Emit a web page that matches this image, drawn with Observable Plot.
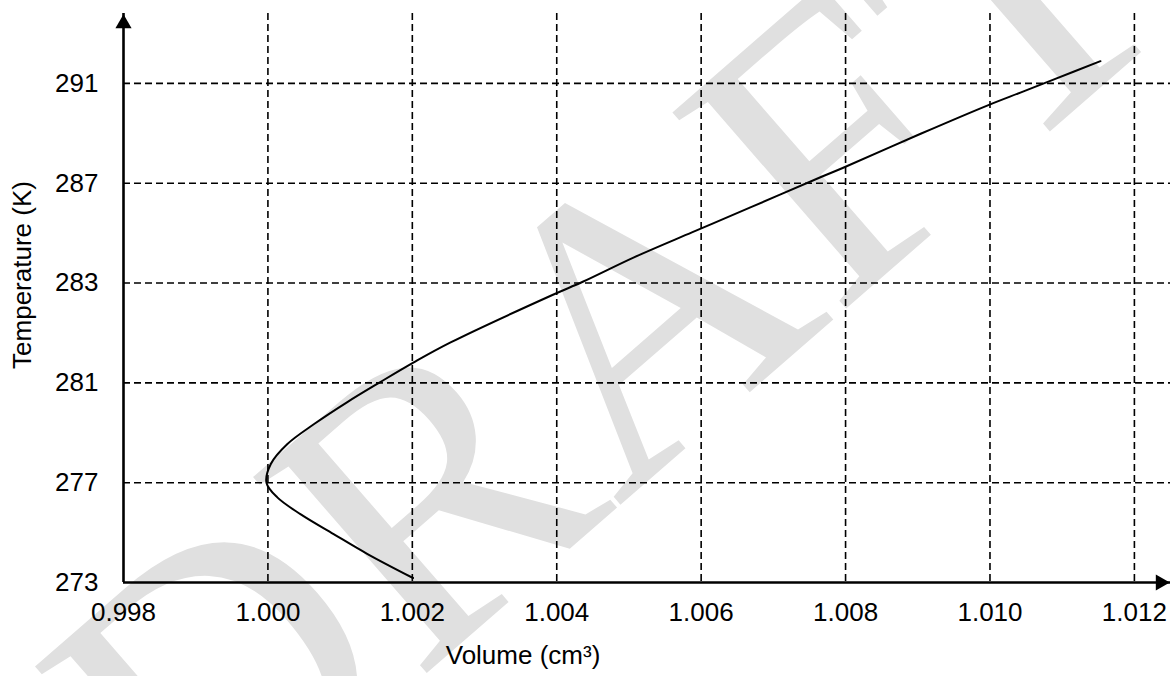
<!DOCTYPE html>
<html>
<head>
<meta charset="utf-8">
<script src="https://cdn.jsdelivr.net/npm/d3@7"></script>
<script src="https://cdn.jsdelivr.net/npm/@observablehq/plot@0.6"></script>
<style>
  html, body { margin: 0; padding: 0; background: #fff; }
  #chart svg { display: block; }
</style>
</head>
<body>
<div id="chart"></div>
<script>
// Tick labels of the two axes (the temperature gridlines are evenly spaced in the drawing)
const volumeTicks = [0.998, 1.000, 1.002, 1.004, 1.006, 1.008, 1.010, 1.012];
const tempTicks = [273, 277, 281, 283, 287, 291];

// Curve: volume (cm³) and temperature (K)
const curveVolume = [1.00201, 1.00138, 1.00091, 1.00045, 1.00013, 0.99998, 1.00004, 1.00027, 1.00064, 1.00110,
  1.00155, 1.00202, 1.00253, 1.00394, 1.00436, 1.00507, 1.00588, 1.00669, 1.00766,
  1.00796, 1.00904, 1.00997, 1.01043, 1.01087, 1.01153];
const curveTemp = [273.18, 274.14, 274.94, 275.74, 276.41, 277.00, 277.75, 278.55, 279.35, 280.23,
  281.01, 281.41, 281.81, 282.76, 283.05, 284.03, 285.04, 286.04, 287.25,
  287.61, 288.98, 290.12, 290.64, 291.14, 291.89];

const axisLabelX = "Volume (cm³)";
const axisLabelY = "Temperature (K)";
const watermark = "DRAFT";

// The drawing places its temperature labels at equal steps: map each label to its step index
const tPos = d3.scaleLinear().domain(tempTicks).range(d3.range(tempTicks.length));
const curve = curveVolume.map((v, i) => ({V: v, T: curveTemp[i]}));

const dash = "7,4";
const chart = Plot.plot({
  width: 1170,
  height: 676,
  marginLeft: 123,
  marginRight: 0,
  marginTop: 13,
  marginBottom: 94,
  x: {domain: [0.998, 1.0125], axis: null},
  y: {domain: [0, 5.7], axis: null},
  style: {fontFamily: "'Liberation Sans', Arial, sans-serif", fontSize: "26px", background: "#fff", color: "#000"},
  marks: [
    Plot.text([watermark], {frameAnchor: "middle", textAnchor: "middle", lineAnchor: "middle", text: d => d,
      fontFamily: "'Liberation Serif', 'Times New Roman', serif",
      fontSize: 400, fill: "#e0e0e0", rotate: -41, dx: -38, dy: 47}),
    Plot.ruleX(volumeTicks.slice(1), {stroke: "#000", strokeWidth: 1.6, strokeDasharray: dash}),
    Plot.ruleY(tempTicks.slice(1), {y: d => tPos(d), stroke: "#000", strokeWidth: 1.6, strokeDasharray: dash}),
    Plot.line(curve, {x: "V", y: d => tPos(d.T), curve: "catmull-rom", stroke: "#000", strokeWidth: 2}),
    Plot.ruleX([volumeTicks[0]], {stroke: "#000", strokeWidth: 2.6}),
    Plot.ruleY([tempTicks[0]], {y: d => tPos(d), stroke: "#000", strokeWidth: 2.6}),
    Plot.dot([volumeTicks[0]], {x: d => d, frameAnchor: "top", dy: 10, symbol: "triangle", r: 6, fill: "#000", stroke: null}),
    Plot.dot([tempTicks[0]], {y: d => tPos(d), frameAnchor: "right", dx: -10, symbol: "triangle", rotate: 90, r: 6, fill: "#000", stroke: null}),
    Plot.text(volumeTicks, {x: d => d, frameAnchor: "bottom", lineAnchor: "middle", dy: 30, text: d => d3.format(".3f")(d), fill: "#000"}),
    Plot.text(tempTicks, {y: d => tPos(d), frameAnchor: "left", dx: -25, textAnchor: "end", text: d => String(d), fill: "#000"}),
    Plot.text([axisLabelX], {frameAnchor: "bottom", textAnchor: "middle", lineAnchor: "middle", dx: -124, dy: 73, text: d => d, fill: "#000"}),
    Plot.text([axisLabelY], {frameAnchor: "left", textAnchor: "middle", lineAnchor: "middle", dx: -101, dy: -23, rotate: -90, text: d => d, fill: "#000"})
  ]
});
document.getElementById("chart").append(chart);
</script>
</body>
</html>
